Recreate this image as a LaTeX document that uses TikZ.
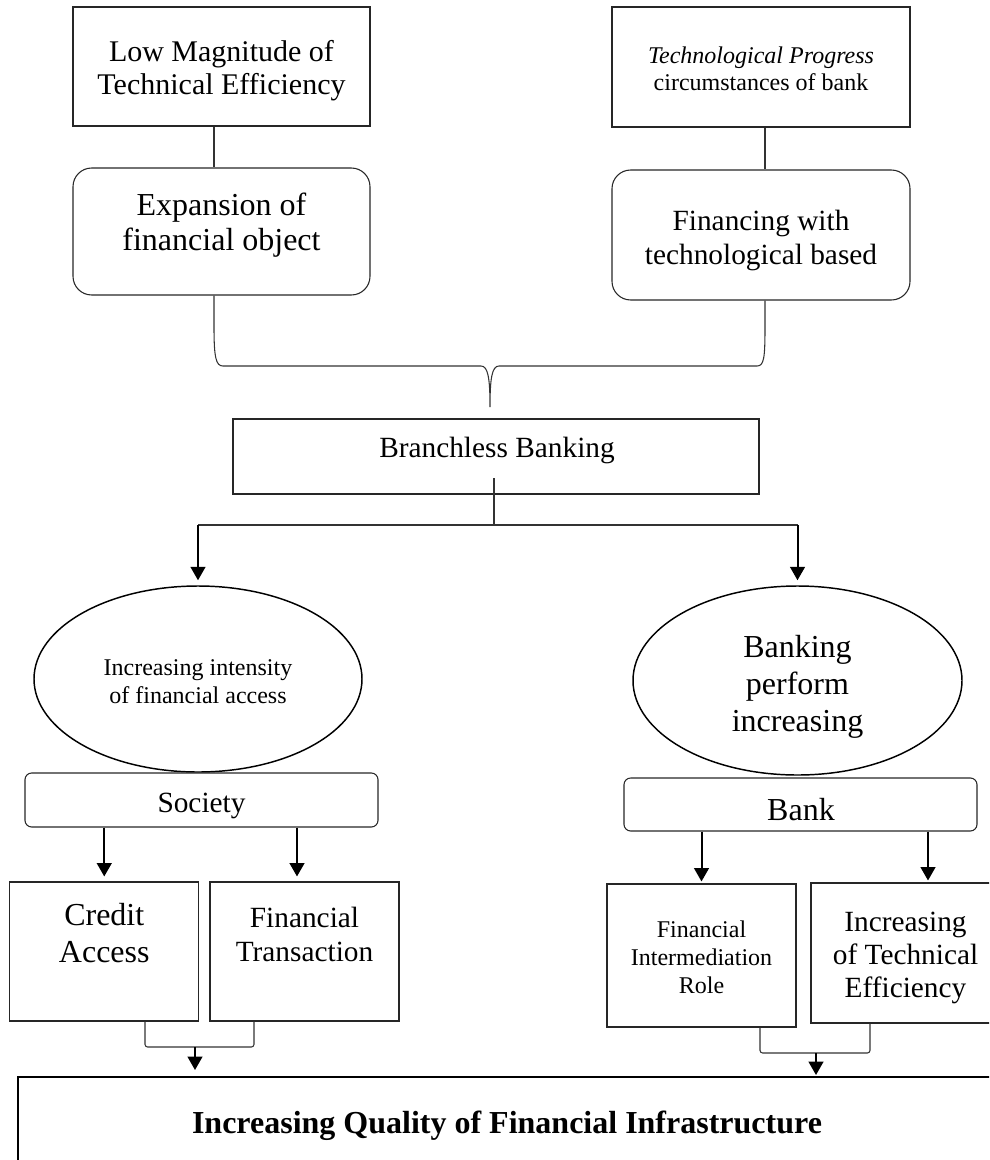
\documentclass[tikz,border=0pt]{standalone}
\usepackage{fontspec}
\setmainfont{Liberation Serif}
\usetikzlibrary{arrows.meta,shapes.geometric}
\newcommand\fsz[2]{\fontsize{#1}{#2}\selectfont}
\begin{document}
\begin{tikzpicture}[x=0.75pt,y=-0.75pt,
  box/.style={draw=black!85,line width=0.8pt,rectangle,inner sep=0pt,align=center},
  rbox/.style={box,rounded corners=14pt},
  sbox/.style={box,rounded corners=5pt},
  oval/.style={draw=black,line width=1.1pt,ellipse,inner sep=0pt,align=center},
  txt/.style={inner sep=0pt,align=center},
  conn/.style={draw=black!80,line width=0.8pt},
  arr/.style={draw=black,line width=1.5pt,-{Triangle[length=10pt,width=11pt]}}
]
\useasboundingbox (0,0) rectangle (989,1160);
\clip (0,0) rectangle (989,1160);

% top row
\node[box,minimum width=222.75pt,minimum height=89.25pt] (lowmag) at (221.5,66.5) {};
\node[txt,font=\fsz{22.5pt}{25pt}] (lowmagT) at (221.5,71) {Low Magnitude of\\Technical Efficiency};
\node[box,minimum width=223.5pt,minimum height=90pt] (techprog) at (761,67) {};
\node[txt,font=\fsz{18pt}{20.5pt}] (techprogT) at (761,68.5) {\textit{Technological Progress}\\circumstances of bank};
\node[rbox,minimum width=222.75pt,minimum height=95.25pt] (expan) at (221.5,231.5) {};
\node[txt,font=\fsz{24pt}{26pt}] (expanT) at (221.5,225) {Expansion of\\financial object};
\node[rbox,minimum width=223.5pt,minimum height=97.5pt] (finan) at (761,235) {};
\node[txt,font=\fsz{22pt}{26pt}] (finanT) at (761,240.5) {Financing with\\technological based};

\coordinate (xL) at (214,0);
\coordinate (xR) at (765,0);
\draw[conn] (lowmag.south -| xL) -- (expan.north -| xL);
\draw[conn] (techprog.south -| xR) -- (finan.north -| xR);

% brace
\coordinate (tip) at (490,407);
\draw[conn] (expan.south -| xL) -- (214,327) .. controls (214,358) and (216,366) .. (223,366) -- (481,366) .. controls (488,366) and (490,378) .. (tip) .. controls (490,378) and (492,366) .. (499,366) -- (757,366) .. controls (764,366) and (765,358) .. (765,327) -- (finan.south -| xR);

% branchless
\node[box,minimum width=394.5pt,minimum height=56.25pt] (branch) at (496,456.5) {};
\node[txt,font=\fsz{22pt}{24pt}] (branchT) at (497,450.5) {Branchless Banking};

% ellipses
\node[oval,minimum width=246pt,minimum height=139.5pt] (ellL) at (198,679) {};
\node[txt,font=\fsz{18pt}{21pt}] (ellLT) at (198,681.5) {Increasing intensity\\of financial access};
\node[oval,minimum width=246.75pt,minimum height=141.75pt] (ellR) at (797.5,680.5) {};
\node[txt,font=\fsz{24pt}{27.5pt}] (ellRT) at (797.5,687) {Banking\\perform\\increasing};

\coordinate (bsrc) at (494,478);
\coordinate (hy) at (0,525);
\draw[conn] (bsrc) -- (bsrc |- hy);
\draw[conn] (ellL.north |- hy) -- (ellR.north |- hy);
\draw[arr,shorten >=3.75pt] (ellL.north |- hy) -- (ellL.north);
\draw[arr,shorten >=3.75pt] (ellR.north |- hy) -- (ellR.north);

% society / bank
\node[sbox,minimum width=264.75pt,minimum height=40.5pt] (society) at (201.5,800) {};
\node[txt,font=\fsz{22pt}{25pt}] (societyT) at (201.5,805.5) {Society};
\node[sbox,minimum width=264.75pt,minimum height=39.75pt] (bank) at (800.5,804.5) {};
\node[txt,font=\fsz{24pt}{26pt}] (bankT) at (801,809.5) {Bank};

% bottom boxes
\node[box,minimum width=142pt,minimum height=104.25pt] (credit) at (104.25,951.5) {};
\node[txt,font=\fsz{24pt}{28pt}] (creditT) at (104.25,933) {Credit\\Access};
\node[box,minimum width=141.75pt,minimum height=104.25pt] (trans) at (304.5,951.5) {};
\node[txt,font=\fsz{22pt}{26pt}] (transT) at (304.5,934.5) {Financial\\Transaction};
\node[box,minimum width=141.75pt,minimum height=107.25pt] (inter) at (701.5,955.5) {};
\node[txt,font=\fsz{18pt}{21pt}] (interT) at (701.5,957) {Financial\\Intermediation\\Role};
\node[box,minimum width=141.75pt,minimum height=105pt] (techeff) at (905.5,953) {};
\node[txt,font=\fsz{22pt}{25pt}] (techeffT) at (905.5,958) {Increasing\\of Technical\\Efficiency};

\coordinate (xs2) at (297,0);
\coordinate (xb2) at (928,0);
\draw[arr,shorten >=3.75pt] (society.south -| credit.north) -- (credit.north);
\draw[arr,shorten >=3.75pt] (society.south -| xs2) -- (trans.north -| xs2);
\draw[arr,shorten >=1.5pt] (bank.south -| inter.north) -- (inter.north);
\draw[arr,shorten >=1.5pt] (bank.south -| xb2) -- (techeff.north -| xb2);

% final box
\node[box,draw=black,line width=1.2pt,minimum width=744.75pt,minimum height=112pt,anchor=north west] (quality) at (17,1076) {};
\node[txt,font=\bfseries\fsz{24pt}{28pt}] (qualityT) at (507,1126) {Increasing Quality of Financial Infrastructure};

% brackets
\coordinate (xa) at (145,0);
\coordinate (xb) at (254,0);
\coordinate (xm) at (195,0);
\coordinate (ly) at (0,1047);
\draw[conn,rounded corners=2pt] (credit.south -| xa) -- (xa |- ly) -- (xb |- ly) -- (trans.south -| xb);
\draw[arr,shorten >=4.5pt] (xm |- ly) -- (quality.north -| xm);
\coordinate (xc) at (760,0);
\coordinate (xd) at (870,0);
\coordinate (xn) at (816,0);
\coordinate (ry) at (0,1053);
\draw[conn,rounded corners=2pt] (inter.south -| xc) -- (xc |- ry) -- (xd |- ry) -- (techeff.south -| xd);
\draw[arr,shorten >=0.75pt] (xn |- ry) -- (quality.north -| xn);
\end{tikzpicture}
\end{document}
